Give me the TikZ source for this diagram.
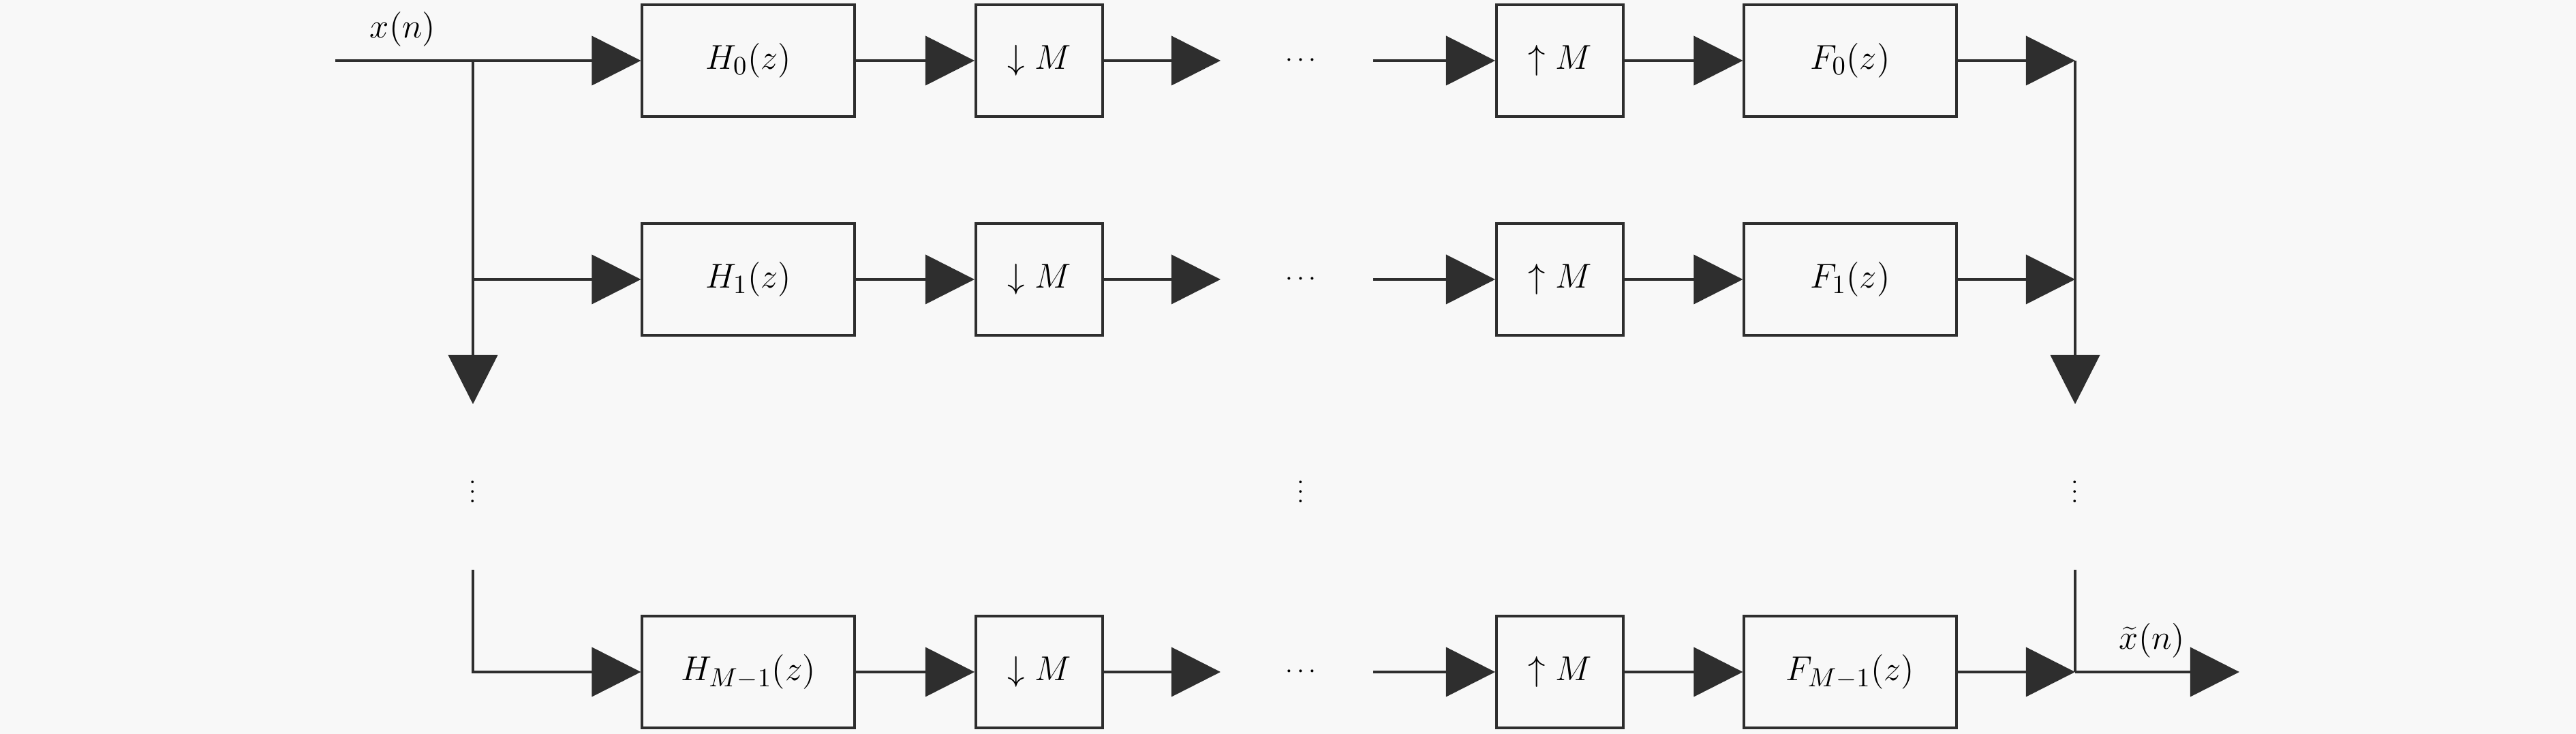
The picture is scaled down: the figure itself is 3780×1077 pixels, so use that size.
\documentclass[tikz,border=0pt]{standalone}
\usetikzlibrary{arrows.meta}
\definecolor{bg}{HTML}{F8F8F8}
\definecolor{ln}{HTML}{2E2E2E}
\begin{document}
\begin{tikzpicture}[x=0.01cm,y=-0.01cm,
  blk/.style={draw=ln,line width=1.1pt,minimum height=1.64cm,inner sep=0pt,font=\fontsize{15}{18}\selectfont},
  wide/.style={blk,minimum width=3.11cm},
  narrow/.style={blk,minimum width=1.86cm},
  conn/.style={draw=ln,line width=1.1pt},
  arr/.style={conn,-{Triangle[length=0.72cm,width=0.72cm]}},
  lbl/.style={font=\fontsize{15}{18}\selectfont,inner sep=0pt},
  dots/.style={font=\fontsize{11}{13}\selectfont,inner sep=0pt}]
\fill[bg] (0,0) rectangle (3780,1077);
\useasboundingbox (0,0) rectangle (3780,1077);
% boxes
\node[wide]   (h0) at (1098,89)  {$H_0(z)$};
\node[wide]   (h1) at (1098,410) {$H_1(z)$};
\node[wide]   (hm) at (1098,986) {$H_{M-1}(z)$};
\node[narrow] (d0) at (1525,89)  {$\downarrow M$};
\node[narrow] (d1) at (1525,410) {$\downarrow M$};
\node[narrow] (dm) at (1525,986) {$\downarrow M$};
\node[narrow] (u0) at (2289,89)  {$\uparrow M$};
\node[narrow] (u1) at (2289,410) {$\uparrow M$};
\node[narrow] (um) at (2289,986) {$\uparrow M$};
\node[wide]   (f0) at (2715,89)  {$F_0(z)$};
\node[wide]   (f1) at (2715,410) {$F_1(z)$};
\node[wide]   (fm) at (2715,986) {$F_{M-1}(z)$};
% dots
\node[dots] (c0) at (1909,89)  {$\cdots$};
\node[dots] (c1) at (1909,410) {$\cdots$};
\node[dots] (cm) at (1909,986) {$\cdots$};
\node[dots] (vl) at (694,711)  {$\vdots$};
\node[dots] (vc) at (1909,711) {$\vdots$};
\node[dots] (vr) at (3045,711) {$\vdots$};
% coordinates
\coordinate (in) at (492,89);
\coordinate (b0) at (694,89);
\coordinate (b1) at (694,410);
\coordinate (bd) at (694,593);
\coordinate (bt) at (694,836);
\coordinate (bm) at (694,986);
\coordinate (e0) at (1791,89);
\coordinate (e1) at (1791,410);
\coordinate (em) at (1791,986);
\coordinate (s0) at (2015,89);
\coordinate (s1) at (2015,410);
\coordinate (sm) at (2015,986);
\coordinate (r0) at (3045,89);
\coordinate (r1) at (3045,410);
\coordinate (rd) at (3045,593);
\coordinate (rt) at (3045,836);
\coordinate (rm) at (3045,986);
\coordinate (out) at (3286,986);
% labels
\node[lbl] (xin) at (591,43) {$x(n)$};
\node[lbl] (xout) at (3158,940) {$\widetilde{x}(n)$};
% connectors
\draw[arr] (in) -- (h0.west);
\draw[arr] (b0) -- (bd);
\draw[arr] (b1) -- (h1.west);
\draw[arr] (bt) -- (bm) -- (hm.west);
\foreach \r in {0,1,m}{
  \draw[arr] (h\r.east) -- (d\r.west);
  \draw[arr] (d\r.east) -- (e\r);
  \draw[arr] (s\r) -- (u\r.west);
  \draw[arr] (u\r.east) -- (f\r.west);
  \draw[arr] (f\r.east) -- (r\r);
}
\draw[arr] (r0) -- (rd);
\draw[conn] (rt) -- (rm);
\draw[arr] (rm) -- (out);
\end{tikzpicture}
\end{document}
